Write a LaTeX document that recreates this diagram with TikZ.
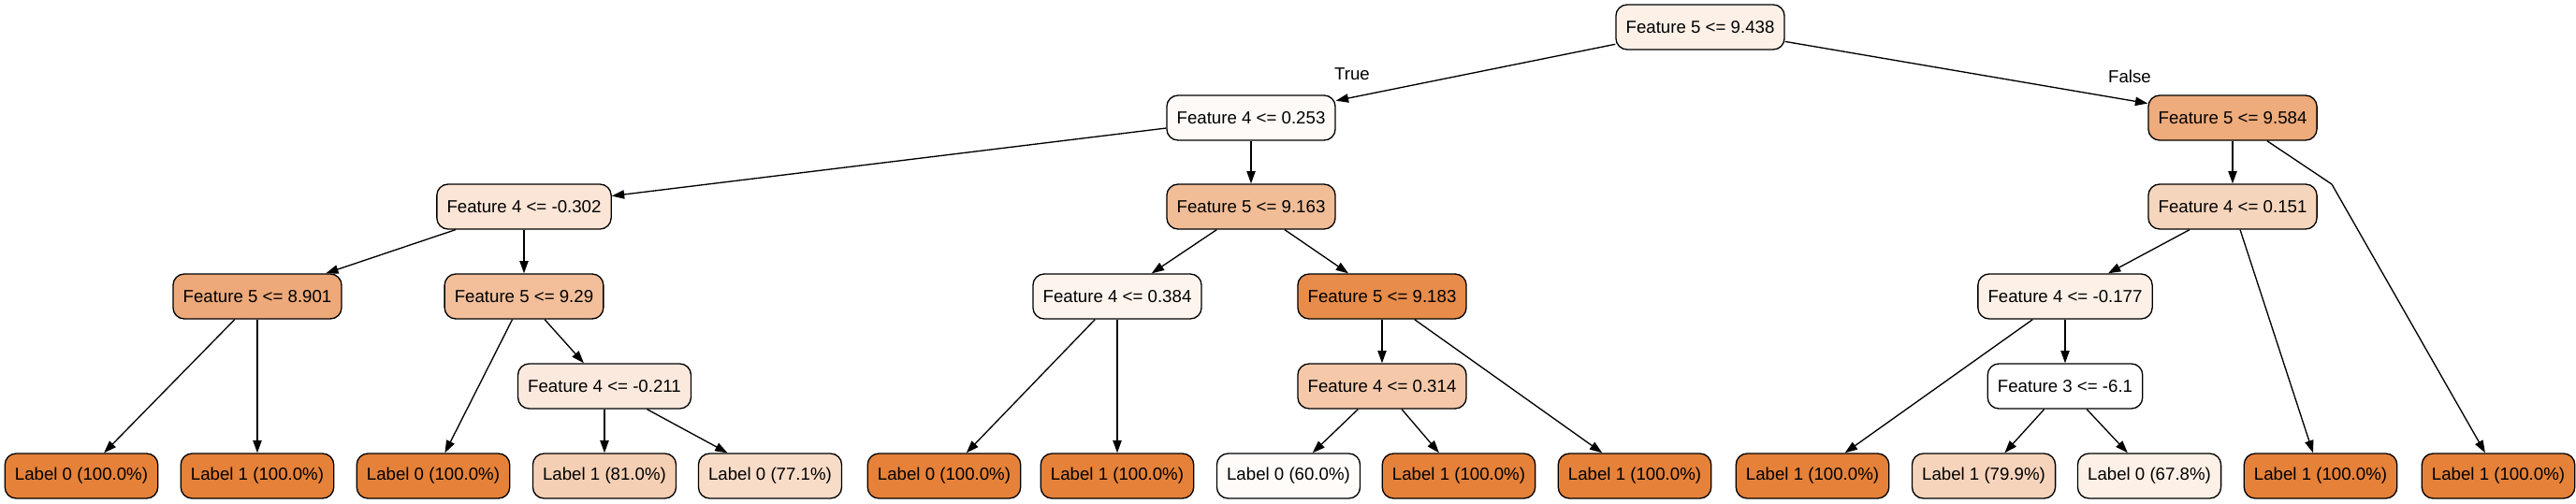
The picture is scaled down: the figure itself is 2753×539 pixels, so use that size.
\documentclass[tikz,border=0pt]{standalone}
\usepackage{fontspec}
\setmainfont{Liberation Sans}
\usepackage{xcolor}
\usetikzlibrary{arrows.meta}
\definecolor{full}{HTML}{E58139}
\definecolor{shadeA}{HTML}{FDF0E7}
\definecolor{shadeB}{HTML}{FEFAF7}
\definecolor{shadeC}{HTML}{EEAB7B}
\definecolor{shadeD}{HTML}{FBE5D6}
\definecolor{shadeE}{HTML}{F1BD97}
\definecolor{shadeF}{HTML}{F6D5BD}
\definecolor{shadeG}{HTML}{EDA979}
\definecolor{shadeH}{HTML}{F2BF9A}
\definecolor{shadeI}{HTML}{FDF4EE}
\definecolor{shadeJ}{HTML}{E78C4A}
\definecolor{shadeK}{HTML}{FCF0E7}
\definecolor{shadeL}{HTML}{FBE9DD}
\definecolor{shadeM}{HTML}{F4C8A9}
\definecolor{leafA}{HTML}{F5CFB3}
\definecolor{leafB}{HTML}{F8DCC8}
\definecolor{leafC}{HTML}{FEFBF9}
\definecolor{leafD}{HTML}{F6D4BB}
\definecolor{leafE}{HTML}{FDF0E6}
\tikzset{
	split/.style={
			draw, line width=1pt, rounded corners=9pt, fill=#1,
			inner xsep=8pt, inner ysep=0pt, minimum height=36pt,
			font=\fontsize{14pt}{16pt}\selectfont
		},
	split/.default=white,
	edgelbl/.style={font=\fontsize{14pt}{16pt}\selectfont},
	branch/.style={line width=1pt, -{Triangle[length=10pt,width=7pt]}}
}

\begin{document}
\begin{tikzpicture}[x=0.75pt, y=-0.75pt]
		\useasboundingbox (0,0) rectangle (2753,539);

		% splits
		\node[split=shadeA] (root) at (1817, 29) {Feature 5 <= 9.438};
		\node[split=shadeB] (fa) at (1337, 126) {Feature 4 <= 0.253};
		\node[split=shadeC] (fb) at (2386, 126) {Feature 5 <= 9.584};
		\node[split=shadeD] (fc) at (560, 221) {Feature 4 <= -0.302};
		\node[split=shadeE] (fd) at (1337, 221) {Feature 5 <= 9.163};
		\node[split=shadeF] (fe) at (2386, 221) {Feature 4 <= 0.151};
		\node[split=shadeG] (ff) at (275, 317) {Feature 5 <= 8.901};
		\node[split=shadeH] (fg) at (560, 317) {Feature 5 <= 9.29};
		\node[split=shadeI] (fh) at (1194, 317) {Feature 4 <= 0.384};
		\node[split=shadeJ] (fi) at (1477, 317) {Feature 5 <= 9.183};
		\node[split=shadeK] (fj) at (2207, 317) {Feature 4 <= -0.177};
		\node[split=shadeL] (fk) at (646, 413) {Feature 4 <= -0.211};
		\node[split=shadeM] (fl) at (1477, 413) {Feature 4 <= 0.314};
		\node[split] (fm) at (2207, 413) {Feature 3 <= -6.1};

		% leaves
		\foreach \name/\x/\txt/\col in {
				l1/87/Label 0 (100.0\%)/full,
				l2/275/Label 1 (100.0\%)/full,
				l3/463/Label 0 (100.0\%)/full,
				l4/646/Label 1 (81.0\%)/leafA,
				l5/823/Label 0 (77.1\%)/leafB,
				l6/1009/Label 0 (100.0\%)/full,
				l7/1194/Label 1 (100.0\%)/full,
				l8/1377/Label 0 (60.0\%)/leafC,
				l9/1559/Label 1 (100.0\%)/full,
				l10/1747/Label 1 (100.0\%)/full,
				l11/1937/Label 1 (100.0\%)/full,
				l12/2120/Label 1 (79.9\%)/leafD,
				l13/2297/Label 0 (67.8\%)/leafE,
				l14/2480/Label 1 (100.0\%)/full,
				l15/2670/Label 1 (100.0\%)/full} {
			\node[split=\col] (\name) at (\x, 509) {\txt};
		}

		\node[edgelbl] (lbltrue) at (1445, 79) {True};
		\node[edgelbl] (lblfalse) at (2276, 82) {False};
		\coordinate (bend) at (2492, 197);

		\draw[branch] (root) -- (fa);
		\draw[branch] (root) -- (fb);
		\draw[branch] (fa) -- (fc);
		\draw[branch] (fa) -- (fd);
		\draw[branch] (fb) -- (fe);
		\draw[line width=1pt] (fb) -- (bend);
		\draw[branch] (bend) -- (l15);
		\draw[branch] (fc) -- (ff);
		\draw[branch] (fc) -- (fg);
		\draw[branch] (fd) -- (fh);
		\draw[branch] (fd) -- (fi);
		\draw[branch] (fe) -- (fj);
		\draw[branch] (fe) -- (l14);
		\draw[branch] (ff) -- (l1);
		\draw[branch] (ff) -- (l2);
		\draw[branch] (fg) -- (l3);
		\draw[branch] (fg) -- (fk);
		\draw[branch] (fh) -- (l6);
		\draw[branch] (fh) -- (l7);
		\draw[branch] (fi) -- (fl);
		\draw[branch] (fi) -- (l10);
		\draw[branch] (fj) -- (l11);
		\draw[branch] (fj) -- (fm);
		\draw[branch] (fk) -- (l4);
		\draw[branch] (fk) -- (l5);
		\draw[branch] (fl) -- (l8);
		\draw[branch] (fl) -- (l9);
		\draw[branch] (fm) -- (l12);
		\draw[branch] (fm) -- (l13);
	\end{tikzpicture}
\end{document}
